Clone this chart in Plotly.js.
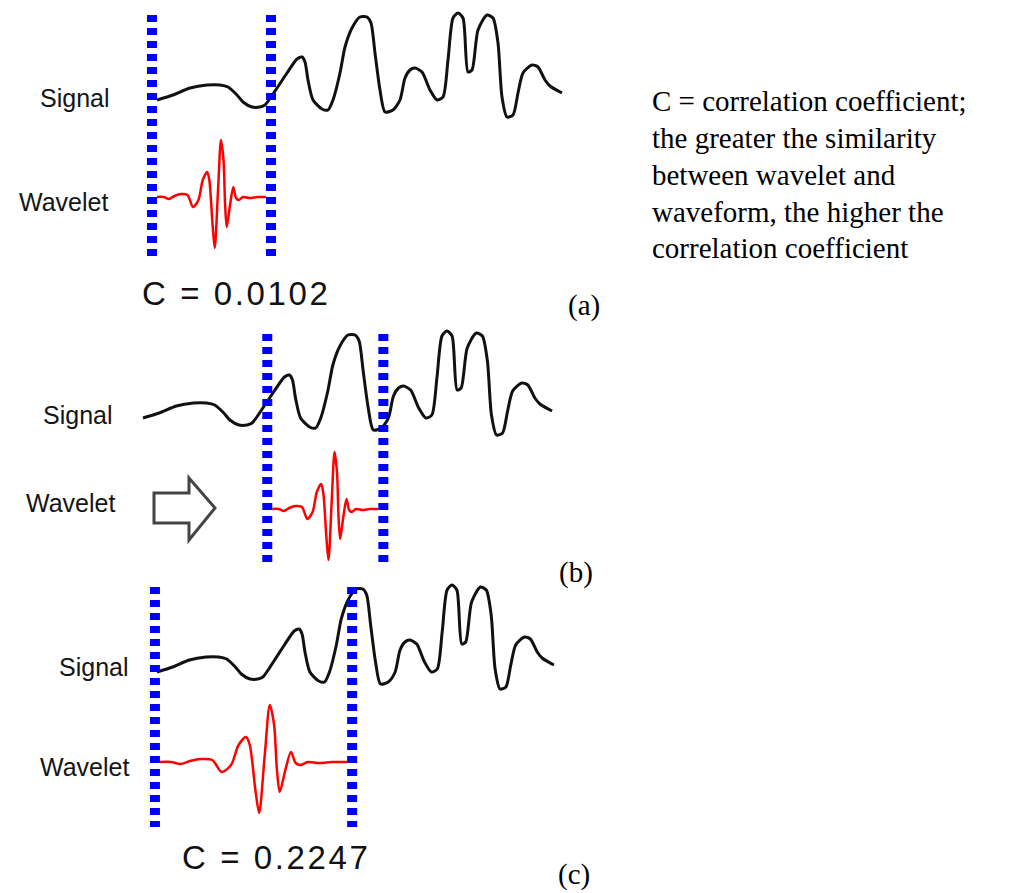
<!DOCTYPE html>
<html>
<head>
<meta charset="utf-8">
<script src="https://cdn.plot.ly/plotly-3.0.1.min.js"></script>
<style>html,body{margin:0;padding:0;background:#fff;}#chart{width:1016px;height:893px;}</style>
</head>
<body>
<div id="chart"></div>
<script>
// ---------- data ----------
// seismic trace (time in samples, amplitude)
const signalTime = [0, 16, 33, 50, 63, 71, 80, 86, 95, 103, 108, 120, 130, 140, 145, 148, 151, 156, 165, 171, 176, 183, 188, 195, 203, 210, 214, 218, 223, 228, 236, 243, 248, 253, 258, 265, 273, 280, 286, 291, 296, 301, 306, 311, 315, 321, 330, 336, 341, 345, 350, 356, 361, 366, 375, 381, 388, 393, 405];
const signalAmp  = [0, 5, 12, 15, 15, 13, 5, -2, -7, -7, -5, 12, 27, 41, 43, 38, 20, 0, -9, -10, 0, 27, 53, 72, 83, 83, 77, 47, 10, -12, -10, 0, 22, 30, 32, 28, 10, 0, 3, 40, 82, 87, 82, 28, 30, 70, 85, 82, 57, 3, -17, -15, 7, 27, 35, 33, 20, 14, 7];
// wavelet (normalised time 0..1, amplitude)
const waveletTime = [0, 0.06, 0.11, 0.16, 0.22, 0.28, 0.33, 0.38, 0.42, 0.46, 0.48, 0.51, 0.53, 0.56, 0.587, 0.61, 0.625, 0.64, 0.67, 0.70, 0.725, 0.75, 0.79, 0.85, 0.92, 1];
const waveletAmp  = [0, 0, -2, 1, 3, 2, -10, -3, 17, 25, 17, -28, -51, 7, 57, 37, -8, -30, -8, 10, -1, -3, 0, -1, 0, 0];
// window of the wavelet on the signal, per panel (signal time units)
const windowStart = [0, 128, 3];
const windowEnd   = [109, 233, 194];
const corrLabels  = ['C = 0.0102', '', 'C = 0.2247'];
const panelTags   = ['(a)', '(b)', '(c)'];
const rowLabels   = ['Signal', 'Wavelet'];
const noteLines   = ['C = correlation coefficient;', 'the greater the similarity', 'between wavelet and', 'waveform, the higher the', 'correlation coefficient'];

// ---------- layout helpers (pixel placement) ----------
const W = 1016, H = 893;
const fx = px => px / W;
const fy = py => 1 - py / H;

const panels = [
  {x0: 157, sc: 1.00, sigBase: 100, wavBase: 197, lineTop: 15,  lineBot: 261, sigLab: [112, 98],  wavLab: [110, 202], cPos: [140, 293], tag: [584, 305], arrow: false},
  {x0: 143, sc: 1.01, sigBase: 418, wavBase: 509, lineTop: 334, lineBot: 565, sigLab: [115, 415], wavLab: [117, 503], cPos: null,       tag: [576, 572], arrow: true},
  {x0: 157, sc: 0.98, sigBase: 672, wavBase: 762, lineTop: 587, lineBot: 827, sigLab: [131, 667], wavLab: [131, 767], cPos: [180, 857], tag: [574, 874], arrow: false}
];

const traces = [];
const layout = {
  width: W, height: H,
  margin: {l: 0, r: 0, t: 0, b: 0},
  paper_bgcolor: '#ffffff', plot_bgcolor: 'rgba(0,0,0,0)',
  showlegend: false,
  shapes: [], annotations: []
};
const hidden = {visible: false, fixedrange: true};
const XR = [-15, 410], SYR = [-25, 95], WYR = [-60, 65];

panels.forEach((p, i) => {
  const xn = i === 0 ? '' : String(i + 1);
  const ysn = i === 0 ? '' : String(2 * i + 1);
  const ywn = String(2 * i + 2);
  const xKey = 'xaxis' + xn, ysKey = 'yaxis' + ysn, ywKey = 'yaxis' + ywn;
  layout[xKey] = Object.assign({}, hidden, {
    range: XR, domain: [fx(p.x0 + XR[0] * p.sc), fx(p.x0 + XR[1] * p.sc)], anchor: 'y' + ysn
  });
  layout[ysKey] = Object.assign({}, hidden, {
    range: SYR, domain: [fy(p.sigBase - SYR[0]), fy(p.sigBase - SYR[1])], anchor: 'x' + xn
  });
  layout[ywKey] = Object.assign({}, hidden, {
    range: WYR, domain: [fy(p.wavBase - WYR[0]), fy(p.wavBase - WYR[1])], anchor: 'x' + xn
  });

  traces.push({
    type: 'scatter', mode: 'lines', x: signalTime, y: signalAmp,
    xaxis: 'x' + xn, yaxis: 'y' + ysn,
    line: {color: '#111111', width: 3, shape: 'spline', smoothing: 0.7},
    hoverinfo: 'skip'
  });
  const ws = windowStart[i], we = windowEnd[i];
  traces.push({
    type: 'scatter', mode: 'lines',
    x: waveletTime.map(t => ws + t * (we - ws)), y: waveletAmp,
    xaxis: 'x' + xn, yaxis: 'y' + ywn,
    line: {color: '#ff0000', width: 2.5, shape: 'spline', smoothing: 0.8},
    hoverinfo: 'skip'
  });

  // dashed window markers
  const off = 5 / p.sc;
  [ws - off, we + off].forEach(xv => {
    layout.shapes.push({
      type: 'line', xref: 'x' + xn, yref: 'paper',
      x0: xv, x1: xv, y0: fy(p.lineTop), y1: fy(p.lineBot),
      line: {color: '#0000ff', width: 10, dash: '7px,6px'}
    });
  });

  // labels
  const sansLab = {family: 'Liberation Sans, Arial, sans-serif', size: 25, color: '#151515'};
  layout.annotations.push({xref: 'paper', yref: 'paper', x: fx(p.sigLab[0]), y: fy(p.sigLab[1]),
    xanchor: 'right', yanchor: 'middle', showarrow: false, text: rowLabels[0], font: sansLab});
  layout.annotations.push({xref: 'paper', yref: 'paper', x: fx(p.wavLab[0]), y: fy(p.wavLab[1]),
    xanchor: 'right', yanchor: 'middle', showarrow: false, text: rowLabels[1], font: sansLab});
  if (p.cPos && corrLabels[i]) {
    layout.annotations.push({xref: 'paper', yref: 'paper', x: fx(p.cPos[0]), y: fy(p.cPos[1]),
      xanchor: 'left', yanchor: 'middle', showarrow: false,
      text: '<span style="letter-spacing:2.6px">' + corrLabels[i] + '</span>',
      font: {family: 'Liberation Sans, Arial, sans-serif', size: 33, color: '#111111'}});
  }
  layout.annotations.push({xref: 'paper', yref: 'paper', x: fx(p.tag[0]), y: fy(p.tag[1]),
    xanchor: 'center', yanchor: 'middle', showarrow: false, text: panelTags[i],
    font: {family: 'Liberation Serif, Times New Roman, serif', size: 29, color: '#000000'}});

  if (p.arrow) {
    const pts = [[154, 493], [189, 493], [189, 478], [215, 508], [189, 540], [189, 523], [154, 523]];
    const path = 'M ' + pts.map(q => fx(q[0]).toFixed(5) + ',' + fy(q[1]).toFixed(5)).join(' L ') + ' Z';
    layout.shapes.push({type: 'path', xref: 'paper', yref: 'paper', path: path,
      line: {color: '#444444', width: 3}, fillcolor: 'rgba(255,255,255,0)'});
  }
});

// explanatory note
const noteY = [101, 138, 175, 212, 248];
noteLines.forEach((t, k) => {
  layout.annotations.push({xref: 'paper', yref: 'paper', x: fx(650), y: fy(noteY[k]),
    xanchor: 'left', yanchor: 'middle', showarrow: false, text: t,
    font: {family: 'Liberation Serif, Times New Roman, serif', size: 29, color: '#000000'}});
});

Plotly.newPlot('chart', traces, layout, {staticPlot: true, displayModeBar: false});
</script>
</body>
</html>
